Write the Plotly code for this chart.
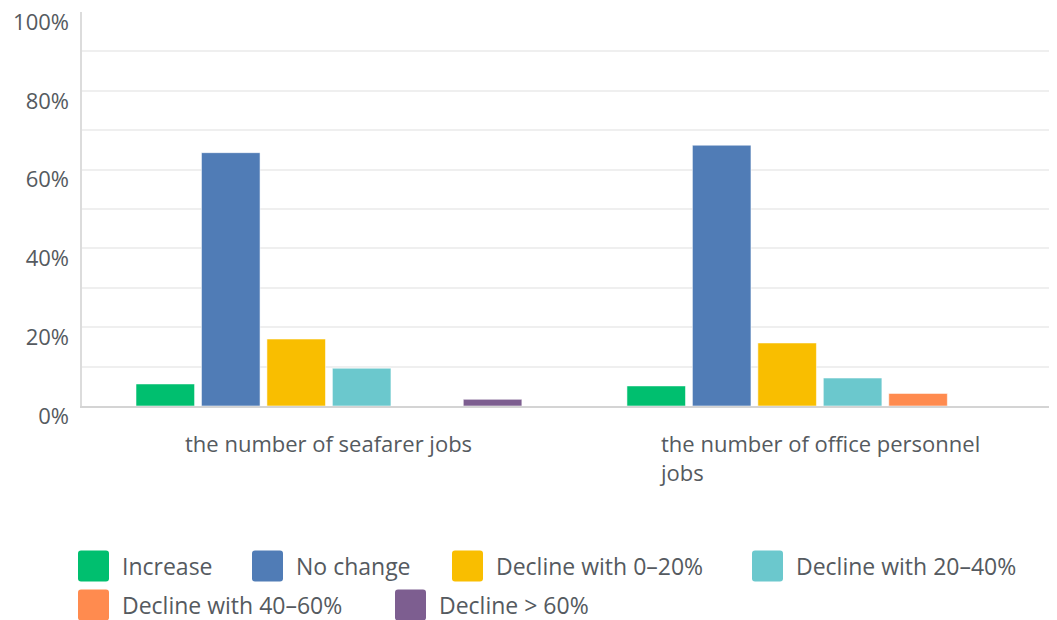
import plotly.graph_objects as go

# ---- data ----
CATEGORIES = ["the number of seafarer jobs", "the number of office personnel jobs"]
CATEGORY_LABELS = ["the number of seafarer jobs", "the number of office personnel<br>jobs"]
SERIES = ["Increase", "No change", "Decline with 0\u201320%", "Decline with 20\u201340%",
          "Decline with 40\u201360%", "Decline > 60%"]
INCREASE = [5.6, 5.1]
NO_CHANGE = [64.3, 66.2]
DECLINE_0_20 = [17.0, 16.0]
DECLINE_20_40 = [9.6, 7.1]
DECLINE_40_60 = [0.0, 3.2]
DECLINE_60 = [1.7, 0.0]
VALUES = [INCREASE, NO_CHANGE, DECLINE_0_20, DECLINE_20_40, DECLINE_40_60, DECLINE_60]
Y_TICKS = [0, 20, 40, 60, 80, 100]
Y_TICK_TEXT = ["0%", "20%", "40%", "60%", "80%", "100%"]

COLORS = ["#00BF6F", "#507CB6", "#F9BE00", "#6BC8CD", "#FF8B4F", "#7D5E90"]
FONT = "Open Sans"
TEXT_COLOR = "#555a60"
OFF = 8  # page body margin offset
W, H = 1057 - OFF, 620 - OFF
ML, MR, MT, MB = 82 - OFF, 0, 12 - OFF, 214
PW = W - ML - MR
PH = H - MT - MB

fig = go.Figure()
for name, vals, col in zip(SERIES, VALUES, COLORS):
    fig.add_trace(go.Bar(
        x=CATEGORIES, y=vals, name=name,
        marker=dict(color=col, line=dict(color="rgba(255,255,255,0.55)", width=1)),
        showlegend=False, hoverinfo="x+y+name",
    ))

# helper: window pixel position -> paper coordinates
def px_x(px):
    return (px - OFF - ML) / PW

def px_y(py):
    return (H - MB - (py - OFF)) / PH

shapes = []
annotations = []

# custom legend with large rounded swatches
LEGEND_POS = [(78, 566), (252, 566), (452, 566), (752, 566), (78, 605), (395, 605)]
SW = 31
R = 3
for name, col, (lx, cy) in zip(SERIES, COLORS, LEGEND_POS):
    x0, x1 = px_x(lx), px_x(lx + SW)
    y0, y1 = px_y(cy + SW / 2), px_y(cy - SW / 2)
    rx, ry = R / PW, R / PH
    path = (f"M {x0+rx},{y0} L {x1-rx},{y0} Q {x1},{y0} {x1},{y0+ry} "
            f"L {x1},{y1-ry} Q {x1},{y1} {x1-rx},{y1} L {x0+rx},{y1} "
            f"Q {x0},{y1} {x0},{y1-ry} L {x0},{y0+ry} Q {x0},{y0} {x0+rx},{y0} Z")
    shapes.append(dict(type="path", path=path, xref="paper", yref="paper",
                       fillcolor=col, line=dict(width=0), layer="above"))
    annotations.append(dict(text=name, x=px_x(lx + SW + 11), y=px_y(cy), xref="paper", yref="paper",
                            xanchor="left", yanchor="middle", showarrow=False,
                            font=dict(family=FONT, size=23, color=TEXT_COLOR)))

# category labels (left-aligned multi-line like the original)
for cat, lab in zip(CATEGORIES, CATEGORY_LABELS):
    annotations.append(dict(text=lab, x=cat, xref="x", y=0, yref="paper",
                            xanchor="center", yanchor="top", align="left", yshift=-20,
                            showarrow=False, font=dict(family=FONT, size=22, color=TEXT_COLOR)))

fig.update_layout(
    width=W, height=H,
    margin=dict(l=ML, r=MR, t=MT, b=MB, pad=0, autoexpand=False),
    paper_bgcolor="white", plot_bgcolor="white",
    barmode="group", bargap=0.2, bargroupgap=0.105,
    font=dict(family=FONT, size=22, color=TEXT_COLOR),
    xaxis=dict(range=[-0.503, 1.483], showticklabels=False, ticks="", automargin=False,
               showline=True, linecolor="#d4d4d4", linewidth=2, showgrid=False, zeroline=False),
    yaxis=dict(range=[0, 100], tickvals=[10, 20, 30, 40, 50, 60, 70, 80, 90], automargin=False,
               showticklabels=False, ticks="", showgrid=True, gridcolor="#efefef", gridwidth=2,
               showline=True, linecolor="#dcdcdc", linewidth=2, zeroline=False),
    yaxis2=dict(range=[0, 100], overlaying="y", side="left", tickvals=Y_TICKS, ticktext=Y_TICK_TEXT,
                showgrid=False, zeroline=False, showline=False, ticks="", automargin=False,
                ticklabelshift=10, ticklabelstandoff=12, ticklabeloverflow="allow",
                tickfont=dict(family=FONT, size=22, color=TEXT_COLOR)),
    shapes=shapes, annotations=annotations,
)
# invisible trace so that yaxis2 is rendered
fig.add_trace(go.Scatter(x=[CATEGORIES[0]], y=[0], yaxis="y2", mode="markers",
                         marker=dict(opacity=0), showlegend=False, hoverinfo="skip"))

fig.write_html("out.html")
